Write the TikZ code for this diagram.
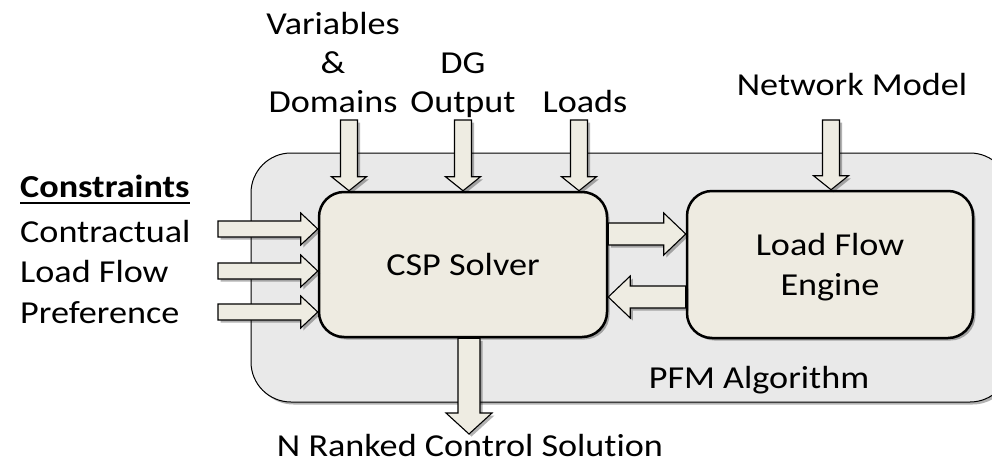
\documentclass[tikz,border=0pt]{standalone}
\usepackage{fontspec}
\setmainfont{Carlito}[FakeStretch=1.13, Ligatures=NoCommon]
\usetikzlibrary{calc,shadows}
\definecolor{outerfill}{HTML}{E9E9E9}
\definecolor{boxfill}{HTML}{EEEBE1}
\definecolor{arrowfill}{HTML}{EEECE2}
\tikzset{
  lbl/.style={inner sep=0pt, font=\fontsize{32}{40}\selectfont, anchor=base},
  softshadow/.style={drop shadow={shadow xshift=2.5pt, shadow yshift=-2.5pt, opacity=0.3, fill=black}},
  procbox/.style={draw=black, line width=2.5pt, fill=boxfill, rounded corners=25pt,
    inner sep=0pt, align=center, font=\fontsize{32}{40}\selectfont, softshadow},
  barrow/.style n args={3}{draw=black, line width=1.1pt, fill=arrowfill, line join=miter, softshadow,
    to path={let \p1=($(\tikztotarget)-(\tikztostart)$), \n1={veclen(\x1,\y1)}, \n2={atan2(\y1,\x1)} in
      {[shift={(\tikztostart)}, rotate=\n2]
        (0pt,#1) -- ({\n1*1pt-#3},#1) -- ({\n1*1pt-#3},#2) -- ({\n1*1pt},0pt)
        -- ({\n1*1pt-#3},-#2) -- ({\n1*1pt-#3},-#1) -- (0pt,-#1) -- cycle}}},
  toparrow/.style={barrow={8.5pt}{17.5pt}{14pt}},
  sidearrow/.style={barrow={8pt}{16pt}{17pt}},
  midarrow/.style={barrow={11pt}{21pt}{22pt}},
  outarrow/.style={barrow={11pt}{23pt}{21pt}}
}
\begin{document}
\begin{tikzpicture}[x=1pt,y=-1pt]
\clip (0,0) rectangle (992,463);
\fill[white] (0,0) rectangle (992,463);
% container
\node[draw=black, line width=1pt, fill=outerfill, rounded corners=40pt, minimum width=759pt,
      minimum height=249pt, inner sep=0pt, softshadow] (pfm) at (630.5,277.5) {};
\node[lbl] (alg) at (759,388) {PFM Algorithm};
% process boxes
\node[procbox, minimum width=288pt, minimum height=145pt] (csp) at (463,264.5) {CSP Solver};
\node[procbox, minimum width=286pt, minimum height=147pt, text depth=0pt] (lfe) at (830,264.5) {Load Flow\\Engine};
% top labels
\node[lbl] (var) at (333,34) {Variables};
\node[lbl] (amp) at (333,73) {\&};
\node[lbl] (dom) at (333,112) {Domains};
\node[lbl] (dg) at (463,73) {DG};
\node[lbl] (out) at (463,112) {Output};
\node[lbl] (lds) at (585,112) {Loads};
\node[lbl] (net) at (852,95) {Network Model};
% constraints
\node[lbl, anchor=base west] (con) at (20,197) {\textbf{Constraints}};
\draw[line width=2pt] ([yshift=-5.5pt]con.base west) -- ([yshift=-5.5pt]con.base east);
\node[lbl, anchor=base west] (c1) at (20,242) {Contractual};
\node[lbl, anchor=base west] (c2) at (20,282) {Load Flow};
\node[lbl, anchor=base west] (c3) at (20,323) {Preference};
\node[lbl] (nrc) at (470,456) {N Ranked Control Solution};
% arrow end points
\coordinate (tvd) at (349,120);
\coordinate (tdg) at (463,120);
\coordinate (tld) at (579,120);
\coordinate (tnm) at (831,120);
\coordinate (hvd) at (tvd |- csp.north);
\coordinate (hdg) at (tdg |- csp.north);
\coordinate (hld) at (tld |- csp.north);
\coordinate (hnm) at (tnm |- lfe.north);
\coordinate (tc1) at (218,229);
\coordinate (tc2) at (218,271);
\coordinate (tc3) at (218,312);
\coordinate (hc1) at (tc1 -| csp.west);
\coordinate (hc2) at (tc2 -| csp.west);
\coordinate (hc3) at (tc3 -| csp.west);
\coordinate (m1s) at (csp.east |- 0,234);
\coordinate (m1e) at (lfe.west |- 0,234);
\coordinate (m2s) at (lfe.west |- 0,297);
\coordinate (m2e) at (csp.east |- 0,297);
\coordinate (bs) at (csp.south -| 469,0);
\coordinate (be) at (469,434);
% arrows
\draw[toparrow] (tvd) to (hvd);
\draw[toparrow] (tdg) to (hdg);
\draw[toparrow] (tld) to (hld);
\draw[toparrow] (tnm) to (hnm);
\draw[sidearrow] (tc1) to (hc1);
\draw[sidearrow] (tc2) to (hc2);
\draw[sidearrow] (tc3) to (hc3);
\draw[midarrow] (m1s) to (m1e);
\draw[midarrow] (m2s) to (m2e);
\draw[outarrow] (bs) to (be);
\end{tikzpicture}
\end{document}
